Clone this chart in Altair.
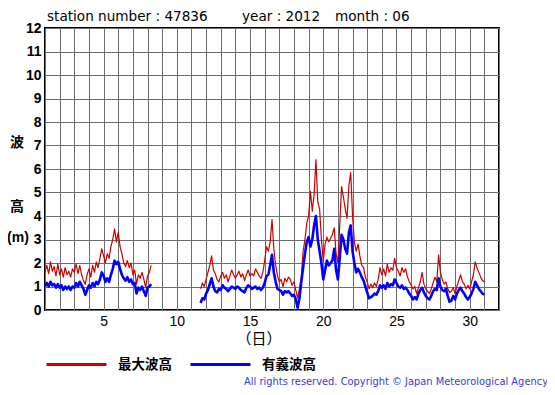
import altair as alt
import pandas as pd

# ---------------- data ----------------
SERIES = ["最大波高", "有義波高"]
COLORS = ["#cc0000", "#0000ff"]

SEG1_START, SEG1_N = 1.0, 59
SEG2_START, SEG2_N = 11.625, 156
STEP = 0.125  # 3-hourly

max_seg1 = [1.6, 1.9, 1.55, 2.05, 1.65, 1.85, 1.45, 1.95,
            1.5, 1.75, 1.4, 1.8, 1.5, 1.65, 1.4, 1.75,
            1.6, 1.95, 1.55, 1.9, 1.5, 1.25, 1.1, 1.5,
            1.75, 1.4, 1.9, 1.6, 2.05, 1.8, 2.2, 2.6,
            2.3, 2.0, 2.4, 2.2, 2.7, 3.0, 3.45, 2.9,
            3.3, 2.7, 2.4, 2.0, 1.85, 2.1, 1.8, 2.0,
            1.5, 1.7, 1.1, 1.5, 1.35, 1.6, 1.3, 0.95,
            1.45, 1.6, 1.9]
sig_seg1 = [1.0, 1.15, 1.0, 1.2, 1.05, 1.1, 0.95, 1.1,
            0.95, 1.05, 0.85, 1.0, 0.9, 1.0, 0.85, 1.0,
            0.95, 1.15, 1.0, 1.2, 1.05, 0.9, 0.65, 0.85,
            1.05, 0.95, 1.15, 1.0, 1.2, 1.1, 1.3, 1.6,
            1.45, 1.2, 1.35, 1.2, 1.5, 1.75, 2.1, 1.95,
            2.05, 1.75, 1.5, 1.35, 1.25, 1.4, 1.2, 1.3,
            1.1, 1.15, 0.7, 0.95, 0.85, 1.0, 0.8, 0.6,
            0.95, 1.0, 1.1]

max_seg2 = [0.9, 1.15, 1.0,
            1.3, 1.6, 1.9, 2.3, 1.7, 1.55, 1.3, 1.2,
            1.45, 1.6, 1.35, 1.5, 1.2, 1.45, 1.7, 1.5,
            1.35, 1.5, 1.65, 1.4, 1.55, 1.25, 1.5, 1.7,
            1.45, 1.55, 1.45, 1.75, 1.6, 1.45, 1.35, 1.6,
            2.1, 2.7, 2.5, 2.9, 3.85, 2.6, 1.9, 1.45,
            1.2, 1.3, 1.0, 1.35, 1.2, 1.4, 1.3, 1.05,
            1.2, 0.85, 0.5, 0.9, 1.4, 2.5, 3.0, 3.7,
            4.0, 5.05, 4.2, 4.9, 6.4, 4.6, 4.3, 3.0,
            2.1, 2.8, 3.1, 2.9, 3.05, 3.2, 3.5, 2.4,
            2.0, 3.6, 5.25, 4.8, 4.3, 3.9, 5.3, 5.85,
            4.0, 2.9, 2.5, 2.8, 2.3, 1.9, 1.8, 1.4,
            1.2, 0.9, 1.1, 0.95, 1.15, 1.0, 1.3, 1.8,
            1.5, 1.75, 1.45, 1.95, 1.6, 1.8, 1.7, 2.2,
            1.8, 1.65, 1.45, 1.8, 1.6, 1.75, 1.4, 1.2,
            1.05, 0.9, 1.0, 0.7, 0.95, 1.2, 1.6, 1.1,
            0.9, 0.8, 0.7, 0.9, 1.15, 1.4, 1.2, 2.35,
            1.6, 1.3, 1.1, 1.2, 0.9, 0.75, 0.8, 0.95,
            0.7, 1.0, 1.25, 1.5, 1.2, 1.1, 0.9, 1.05,
            0.9, 1.2, 1.5, 2.05, 1.8, 1.6, 1.4, 1.25, 1.2]
sig_seg2 = [0.3, 0.5, 0.45,
            0.7, 0.85, 1.1, 1.35, 1.0, 0.8, 0.75, 0.9,
            0.85, 1.05, 0.95, 0.9, 0.8, 0.9, 1.0, 0.95,
            0.9, 1.0, 0.95, 0.85, 0.8, 0.75, 0.95, 1.05,
            1.0, 0.9, 0.95, 1.0, 0.9, 0.95, 0.85, 0.95,
            1.15, 1.45, 1.5, 1.9, 2.35, 1.6, 1.2, 0.9,
            0.85, 0.8, 0.65, 0.8, 0.75, 0.8, 0.7, 0.6,
            0.65, 0.45, 0.1, 0.5, 1.2, 1.8, 2.4, 2.9,
            3.1, 2.7, 3.0, 3.6, 4.0, 3.0, 2.5, 2.0,
            1.3, 1.7, 2.1, 1.9, 2.0, 2.1, 2.6, 1.7,
            1.3, 2.2, 3.2, 3.0, 2.6, 2.4, 3.3, 3.6,
            2.5, 2.0, 1.6, 1.75, 1.6, 1.4, 1.25, 1.0,
            0.75, 0.5, 0.55, 0.6, 0.7, 0.65, 0.8, 1.05,
            0.95, 1.05, 0.9, 1.15, 1.0, 1.1, 1.05, 1.3,
            1.15, 1.0, 0.95, 1.05, 0.9, 0.95, 0.85, 0.7,
            0.6, 0.45, 0.55, 0.45, 0.7, 0.85, 0.95, 0.75,
            0.6, 0.5, 0.45, 0.6, 0.8, 0.9, 0.85, 1.35,
            1.0, 0.85, 0.8, 0.9, 0.6, 0.35, 0.4, 0.6,
            0.45, 0.7, 0.85, 0.95, 0.8, 0.7, 0.55, 0.45,
            0.55, 0.7, 0.9, 1.2, 1.05, 0.9, 0.8, 0.7, 0.65]

X_TICKS = list(range(1, 33))
Y_TICKS = list(range(0, 13))

TITLE_PARTS = ["station number : 47836", "year : 2012", "month : 06"]
Y_TITLE_PARTS = ["波", "高", "(m)"]
X_TITLE = "（日）"
COPYRIGHT = "All rights reserved. Copyright © Japan Meteorological Agency"

# ---------------- table ----------------
rows = []
def add(series, start, values, seg):
    for i, v in enumerate(values):
        rows.append({"day": start + i * STEP, "height": v, "series": series, "segment": seg})

add(SERIES[0], SEG1_START, max_seg1, "a")
add(SERIES[0], SEG2_START, max_seg2, "b")
add(SERIES[1], SEG1_START, sig_seg1, "a")
add(SERIES[1], SEG2_START, sig_seg2, "b")
df = pd.DataFrame(rows)

FONT = "Liberation Sans"
WIDE = "DejaVu Sans"
CJK = "Noto Sans CJK JP"

x_enc = alt.X("day:Q",
              scale=alt.Scale(domain=[1, 32], nice=False, zero=False),
              axis=alt.Axis(values=X_TICKS, title=None, ticks=False, tickSize=0, domain=False,
                            labelExpr="datum.value % 5 == 0 ? datum.value : ''",
                            labelOverlap=False, labelFlush=False, labelPadding=4,
                            labelFont=FONT, labelFontSize=14, labelColor="black"))
y_enc = alt.Y("height:Q",
              scale=alt.Scale(domain=[0, 12], nice=False, zero=True),
              axis=alt.Axis(values=Y_TICKS, title=None, ticks=False, tickSize=0, domain=False,
                            labelPadding=4, labelFont=FONT, labelFontSize=14,
                            labelFontWeight="bold", labelColor="black"))
color_enc = alt.Color("series:N",
                      scale=alt.Scale(domain=SERIES, range=COLORS),
                      legend=alt.Legend(orient="none", legendX=0, legendY=305,
                                        direction="horizontal", title=None,
                                        symbolType="stroke", symbolSize=3600,
                                        symbolStrokeWidth=3, labelFont=CJK,
                                        labelFontWeight="bold", labelFontSize=13.5,
                                        labelColor="black", labelOffset=10,
                                        columnPadding=12, padding=0))

# legend-defining layer (no rows drawn), then the two series
legend_layer = alt.Chart(df).mark_line(strokeWidth=3).encode(
    x=x_enc, y=y_enc, color=color_enc, detail="segment:N"
).transform_filter("datum.day < 0")

red = alt.Chart(df).mark_line(strokeWidth=1.2, strokeJoin="round").encode(
    x=x_enc, y=y_enc, color=color_enc, detail="segment:N"
).transform_filter(alt.datum.series == SERIES[0])
blue = alt.Chart(df).mark_line(strokeWidth=2.6, strokeJoin="round").encode(
    x=x_enc, y=y_enc, color=color_enc, detail="segment:N"
).transform_filter(alt.datum.series == SERIES[1])


def text_layer(txt, px, py, **kw):
    return alt.Chart(pd.DataFrame({"t": [txt]})).mark_text(**kw).encode(
        x=alt.value(px), y=alt.value(py), text="t:N")


tkw = dict(align="left", baseline="middle", font=WIDE, fontSize=13.6, color="black")
title_layers = [
    text_layer(TITLE_PARTS[0], 2, -11, **tkw),
    text_layer(TITLE_PARTS[1], 197, -11, **tkw),
    text_layer(TITLE_PARTS[2], 290, -11, **tkw),
]
ykw = dict(align="center", baseline="middle", fontSize=14, fontWeight="bold", color="black")
ytitle_layers = [
    text_layer(Y_TITLE_PARTS[0], -28, 115, font=CJK, **ykw),
    text_layer(Y_TITLE_PARTS[1], -28, 179, font=CJK, **ykw),
    text_layer(Y_TITLE_PARTS[2], -27, 210, font=FONT, **ykw),
]
xtitle_layer = text_layer(X_TITLE, 214, 311, align="center", baseline="middle", font=CJK, fontSize=15, color="black")
copy_layer = text_layer(COPYRIGHT, 503, 354, align="right", baseline="middle", font=WIDE, fontSize=9.9, color="#3b3bd6")

chart = alt.layer(legend_layer, red, blue, *title_layers, *ytitle_layers, xtitle_layer, copy_layer).properties(
    width=454, height=282,
    autosize=alt.AutoSizeParams(type="none"),
    padding={"left": 37, "top": 20, "right": 48, "bottom": 77},
).configure_view(stroke="black", strokeWidth=2).configure_axis(
    gridColor="#6e6e6e", gridWidth=1, gridOpacity=1)

chart.save("out.html", embed_options={"renderer": "svg", "actions": False})
